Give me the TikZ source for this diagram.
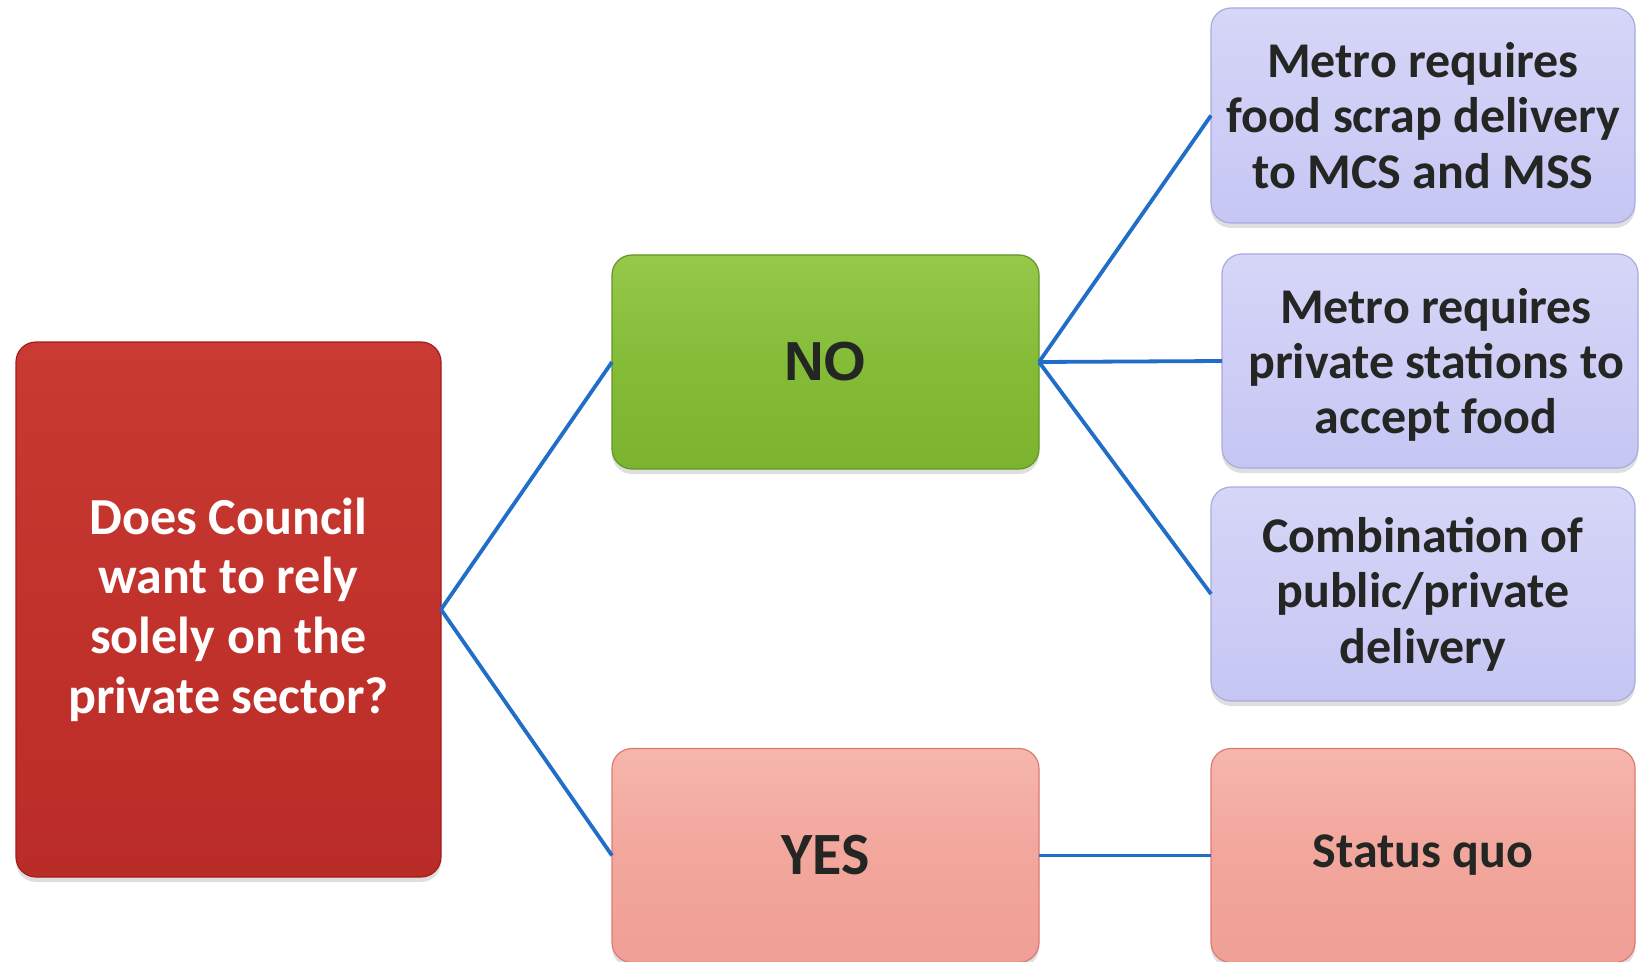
\documentclass[tikz,border=0pt]{standalone}
\usepackage{fontspec}
\setmainfont{Carlito}
\newfontfamily\arialfont{Liberation Sans}
\usetikzlibrary{shadows}
\definecolor{qred}{RGB}{194,50,44}
\definecolor{qredtop}{RGB}{200,58,50}
\definecolor{qredbot}{RGB}{186,44,40}
\definecolor{qredline}{RGB}{165,28,28}
\definecolor{nogreen}{RGB}{132,188,56}
\definecolor{nogreentop}{RGB}{150,200,74}
\definecolor{nogreenbot}{RGB}{124,180,48}
\definecolor{nogreenline}{RGB}{98,150,38}
\definecolor{pinkmid}{RGB}{242,166,156}
\definecolor{pinktop}{RGB}{246,182,172}
\definecolor{pinkbot}{RGB}{240,160,150}
\definecolor{pinkline}{RGB}{222,122,116}
\definecolor{lavtop}{RGB}{214,214,248}
\definecolor{lavbot}{RGB}{198,198,244}
\definecolor{lavline}{RGB}{170,170,222}
\definecolor{linkblue}{RGB}{32,110,200}
\definecolor{txtdark}{RGB}{36,38,36}
\tikzset{
  box/.style={rectangle, rounded corners=10pt, inner sep=0pt, outer sep=0pt, align=center, line width=0.6pt,
    drop shadow={opacity=0.25, shadow xshift=0pt, shadow yshift=-2.5pt}},
  qbox/.style={box, draw=qredline, top color=qredtop, bottom color=qredbot, middle color=qred, text=white,
    font=\bfseries\fontsize{26}{29.8}\selectfont},
  nobox/.style={box, draw=nogreenline, top color=nogreentop, bottom color=nogreenbot, middle color=nogreen, text=txtdark},
  pinkbox/.style={box, draw=pinkline, top color=pinktop, bottom color=pinkbot, middle color=pinkmid, text=txtdark},
  lavbox/.style={box, draw=lavline, top color=lavtop, bottom color=lavbot, text=txtdark,
    font=\bfseries\fontsize{25}{27.7}\selectfont},
  link/.style={draw=linkblue, line width=1.9pt}
}
\begin{document}
\begin{tikzpicture}[x=0.5pt, y=-0.5pt]
\useasboundingbox[fill=white] (0,0) rectangle (1641,962);
\node[qbox, minimum width=212.5pt, minimum height=267.5pt] (q) at (228.5,609.5)
  {Does Council\\want to rely\\solely on the\\private sector?};
\node[nobox, minimum width=213.5pt, minimum height=107pt, font=\arialfont\bfseries\fontsize{27.5}{30}\selectfont] (no) at (825.5,362) {NO};
\node[pinkbox, minimum width=213.5pt, minimum height=107pt, font=\bfseries\fontsize{30}{33}\selectfont] (yes) at (825.5,855.5) {YES};
\node[lavbox, minimum width=212pt, minimum height=107.5pt] (m1) at (1423,115.5)
  {Metro requires\\food scrap delivery\\to MCS and MSS};
\node[lavbox, minimum width=208pt, minimum height=107pt, text depth=0pt] (m2) at (1430,361)
  {\hspace*{6pt}Metro requires\\\hspace*{6pt}private stations to\\\hspace*{6pt}accept food};
\node[lavbox, minimum width=212pt, minimum height=107pt] (comb) at (1423,594)
  {Combination of\\public/private\\delivery};
\node[pinkbox, minimum width=212pt, minimum height=107pt, font=\bfseries\fontsize{25}{27.7}\selectfont] (sq) at (1423,855.5) {Status quo};
\draw[link] (q.east) -- (no.west);
\draw[link] (q.east) -- (yes.west);
\draw[link] (no.east) -- (m1.west);
\draw[link] (no.east) -- (m2.west);
\draw[link] (no.east) -- (comb.west);
\draw[link] (yes.east) -- (sq.west);
\end{tikzpicture}
\end{document}
